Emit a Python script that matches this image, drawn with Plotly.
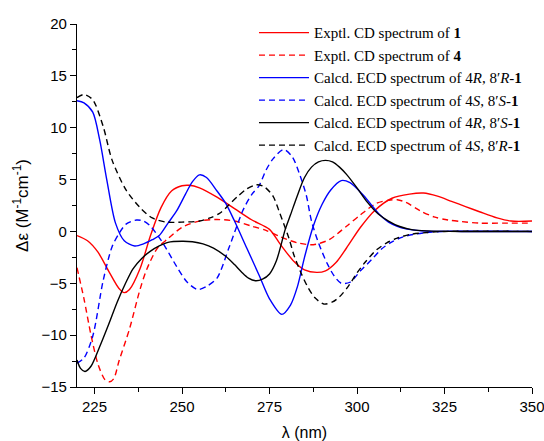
import plotly.graph_objects as go

# ---- data ----
x_exp1 = [220,223,226,229,232,233.5,235,238,241,244,247,250,252,255,260,265,270,275,278,282,285,288.5,291,294,297,301,305,310,315,319,323,327,331,335,340,344,350]
y_exp1 = [-0.4,-0.9,-2.0,-3.8,-5.5,-5.9,-5.6,-3.6,-0.4,2.3,3.9,4.4,4.45,4.2,3.3,2.2,1.1,0.2,-1.2,-2.9,-3.7,-3.95,-3.8,-3.0,-1.6,0.4,2.0,3.2,3.6,3.7,3.4,2.9,2.4,1.9,1.3,1.0,1.0]

x_exp4 = [220,222,224,226,228,229.3,230.5,232,235,238,240,243,246,250,255,260,265,270,274,278,283,287.5,292,297,301,305.5,309,311.5,314,318,322,326,330,335,342,350]
y_exp4 = [-3.5,-6.5,-10.0,-12.8,-14.3,-14.5,-14.2,-12.5,-9.4,-5.6,-3.6,-1.6,-0.7,0.4,1.0,1.15,1.0,0.5,0.1,-0.5,-1.1,-1.28,-0.8,0.5,1.6,2.7,3.0,3.06,2.8,2.0,1.4,1.1,0.95,0.8,0.8,0.8]

x_rr = [220,222,224.5,226.5,228.5,231,233.5,236.5,239,241.5,243.5,246,248.5,251,253,255,257,260,262.5,265,268.5,272,275,278.5,281,283,285,287.5,290,292.5,295.5,298,301.5,304,306.5,309,311.5,314,317,320,330,350]
y_rr = [12.6,12.4,11.5,8.8,5.0,0.8,-0.9,-1.4,-1.2,-0.8,-0.4,0.8,2.0,3.6,4.8,5.45,5.2,3.9,2.7,1.0,-1.6,-4.2,-6.5,-8.0,-7.1,-5.3,-2.5,0.5,2.6,4.0,4.9,4.7,3.6,2.6,1.6,0.9,0.5,0.25,0.1,0.03,0,0]

x_ss = [220,222,224.5,227.5,230,232,234,237,239,241,244.5,248.5,251.5,254.5,257,260,263.5,267.5,270,272,274,276,279,281.5,283.5,285.5,287,289,291.5,293.5,295.5,298,301,304.5,307,310,313,316,320,325,350]
y_ss = [-12.7,-12.2,-10.1,-4.7,-1.5,-0.2,0.7,1.1,1.0,0.5,-1.1,-3.4,-4.9,-5.6,-5.3,-4.5,-1.5,2.1,3.6,4.4,5.9,7.0,7.9,7.2,5.6,3.5,1.0,-1.1,-3.1,-4.3,-5.0,-4.9,-3.8,-2.6,-1.7,-1.0,-0.55,-0.3,-0.1,0,0]

x_rs = [220,221,222.3,224,226.5,229,231.5,234,236,238.5,241,243.5,246,250,253,256,259,262.5,265,267,269,271,273,275,277,279.5,281,283,285,287,289,291,293,295,297,300,303,306,309,312,316,320,330,350]
y_rs = [-12.4,-13.2,-13.5,-13.0,-11.1,-9.0,-6.8,-4.9,-3.6,-2.6,-1.9,-1.4,-1.05,-0.95,-1.0,-1.2,-1.6,-2.4,-3.2,-3.9,-4.5,-4.75,-4.6,-4.1,-2.8,0.2,1.6,3.5,5.2,6.2,6.7,6.85,6.7,6.2,5.5,4.2,2.8,1.7,1.0,0.5,0.15,0.05,0,0]

x_sr = [220,222,224.5,227.5,230,234,238,241.5,245.5,250,255,258,261,263.5,266,268.5,271.3,273.5,276,278,280.5,282,284,286,288,290.5,293,295,297.5,300,302.5,305.5,308.5,311.5,315,320,325,350]
y_sr = [12.9,13.2,12.7,10.1,6.9,4.0,2.3,1.3,0.9,0.9,1.0,1.3,1.8,2.6,3.4,4.1,4.5,4.3,3.4,1.7,-0.6,-2.3,-4.0,-5.4,-6.4,-7.0,-6.8,-6.3,-5.3,-4.0,-2.9,-1.8,-1.1,-0.65,-0.3,-0.1,0,0]

names = [
    "Exptl. CD spectrum of <b>1</b>",
    "Exptl. CD spectrum of <b>4</b>",
    "Calcd. ECD spectrum of 4<i>R</i>, 8\u2032<i>R</i>-<b>1</b>",
    "Calcd. ECD spectrum of 4<i>S</i>, 8\u2032<i>S</i>-<b>1</b>",
    "Calcd. ECD spectrum of 4<i>R</i>, 8\u2032<i>S</i>-<b>1</b>",
    "Calcd. ECD spectrum of 4<i>S</i>, 8\u2032<i>R</i>-<b>1</b>",
]
xs = [x_exp1, x_exp4, x_rr, x_ss, x_rs, x_sr]
ys = [y_exp1, y_exp4, y_rr, y_ss, y_rs, y_sr]
colors = ["#ff0000", "#ff0000", "#0000ff", "#0000ff", "#000000", "#000000"]
dashes = ["solid", "6px,4px", "solid", "6px,4px", "solid", "6px,4px"]

fig = go.Figure()
for i in range(6):
    fig.add_trace(go.Scatter(
        x=xs[i], y=ys[i], mode="lines", name=names[i], legendgroup=f"g{i}",
        line=dict(color=colors[i], width=1.4, dash=dashes[i], shape="spline", smoothing=0.8),
    ))

axis_common = dict(
    showline=True, linecolor="black", linewidth=1.3, mirror=False,
    ticks="outside", ticklen=6, tickwidth=1.3, tickcolor="black",
    showgrid=False, zeroline=False, ticklabeloverflow="allow", automargin=False,
    tickfont=dict(family="Arial, Liberation Sans, sans-serif", size=15, color="black"),
)
fig.update_xaxes(range=[220, 350], tick0=225, dtick=25,
                 minor=dict(ticks="outside", ticklen=4, tickwidth=1.3, tickcolor="black", dtick=12.5, tick0=225),
                 title=dict(text="\u03bb (nm)", font=dict(family="Arial, Liberation Sans, sans-serif", size=16, color="black"), standoff=14),
                 **axis_common)
fig.update_yaxes(range=[-15, 20], tick0=-15, dtick=5,
                 minor=dict(ticks="outside", ticklen=4, tickwidth=1.3, tickcolor="black", dtick=2.5),
                 title=dict(text="\u0394\u03b5 (M<sup>-1</sup>cm<sup>-1</sup>)", font=dict(family="Arial, Liberation Sans, sans-serif", size=17, color="black"), standoff=8),
                 **axis_common)

fig.update_layout(
    width=544, height=441,
    margin=dict(l=77, r=12, t=24, b=54),
    paper_bgcolor="white", plot_bgcolor="white",
    showlegend=True,
    legend=dict(x=0.389, y=1.021, xanchor="left", yanchor="top",
                bgcolor="rgba(0,0,0,0)", borderwidth=0,
                font=dict(family="Liberation Serif, Times New Roman, serif", size=15, color="black"),
                tracegroupgap=0, itemwidth=50),
)

fig.write_html("out.html")
